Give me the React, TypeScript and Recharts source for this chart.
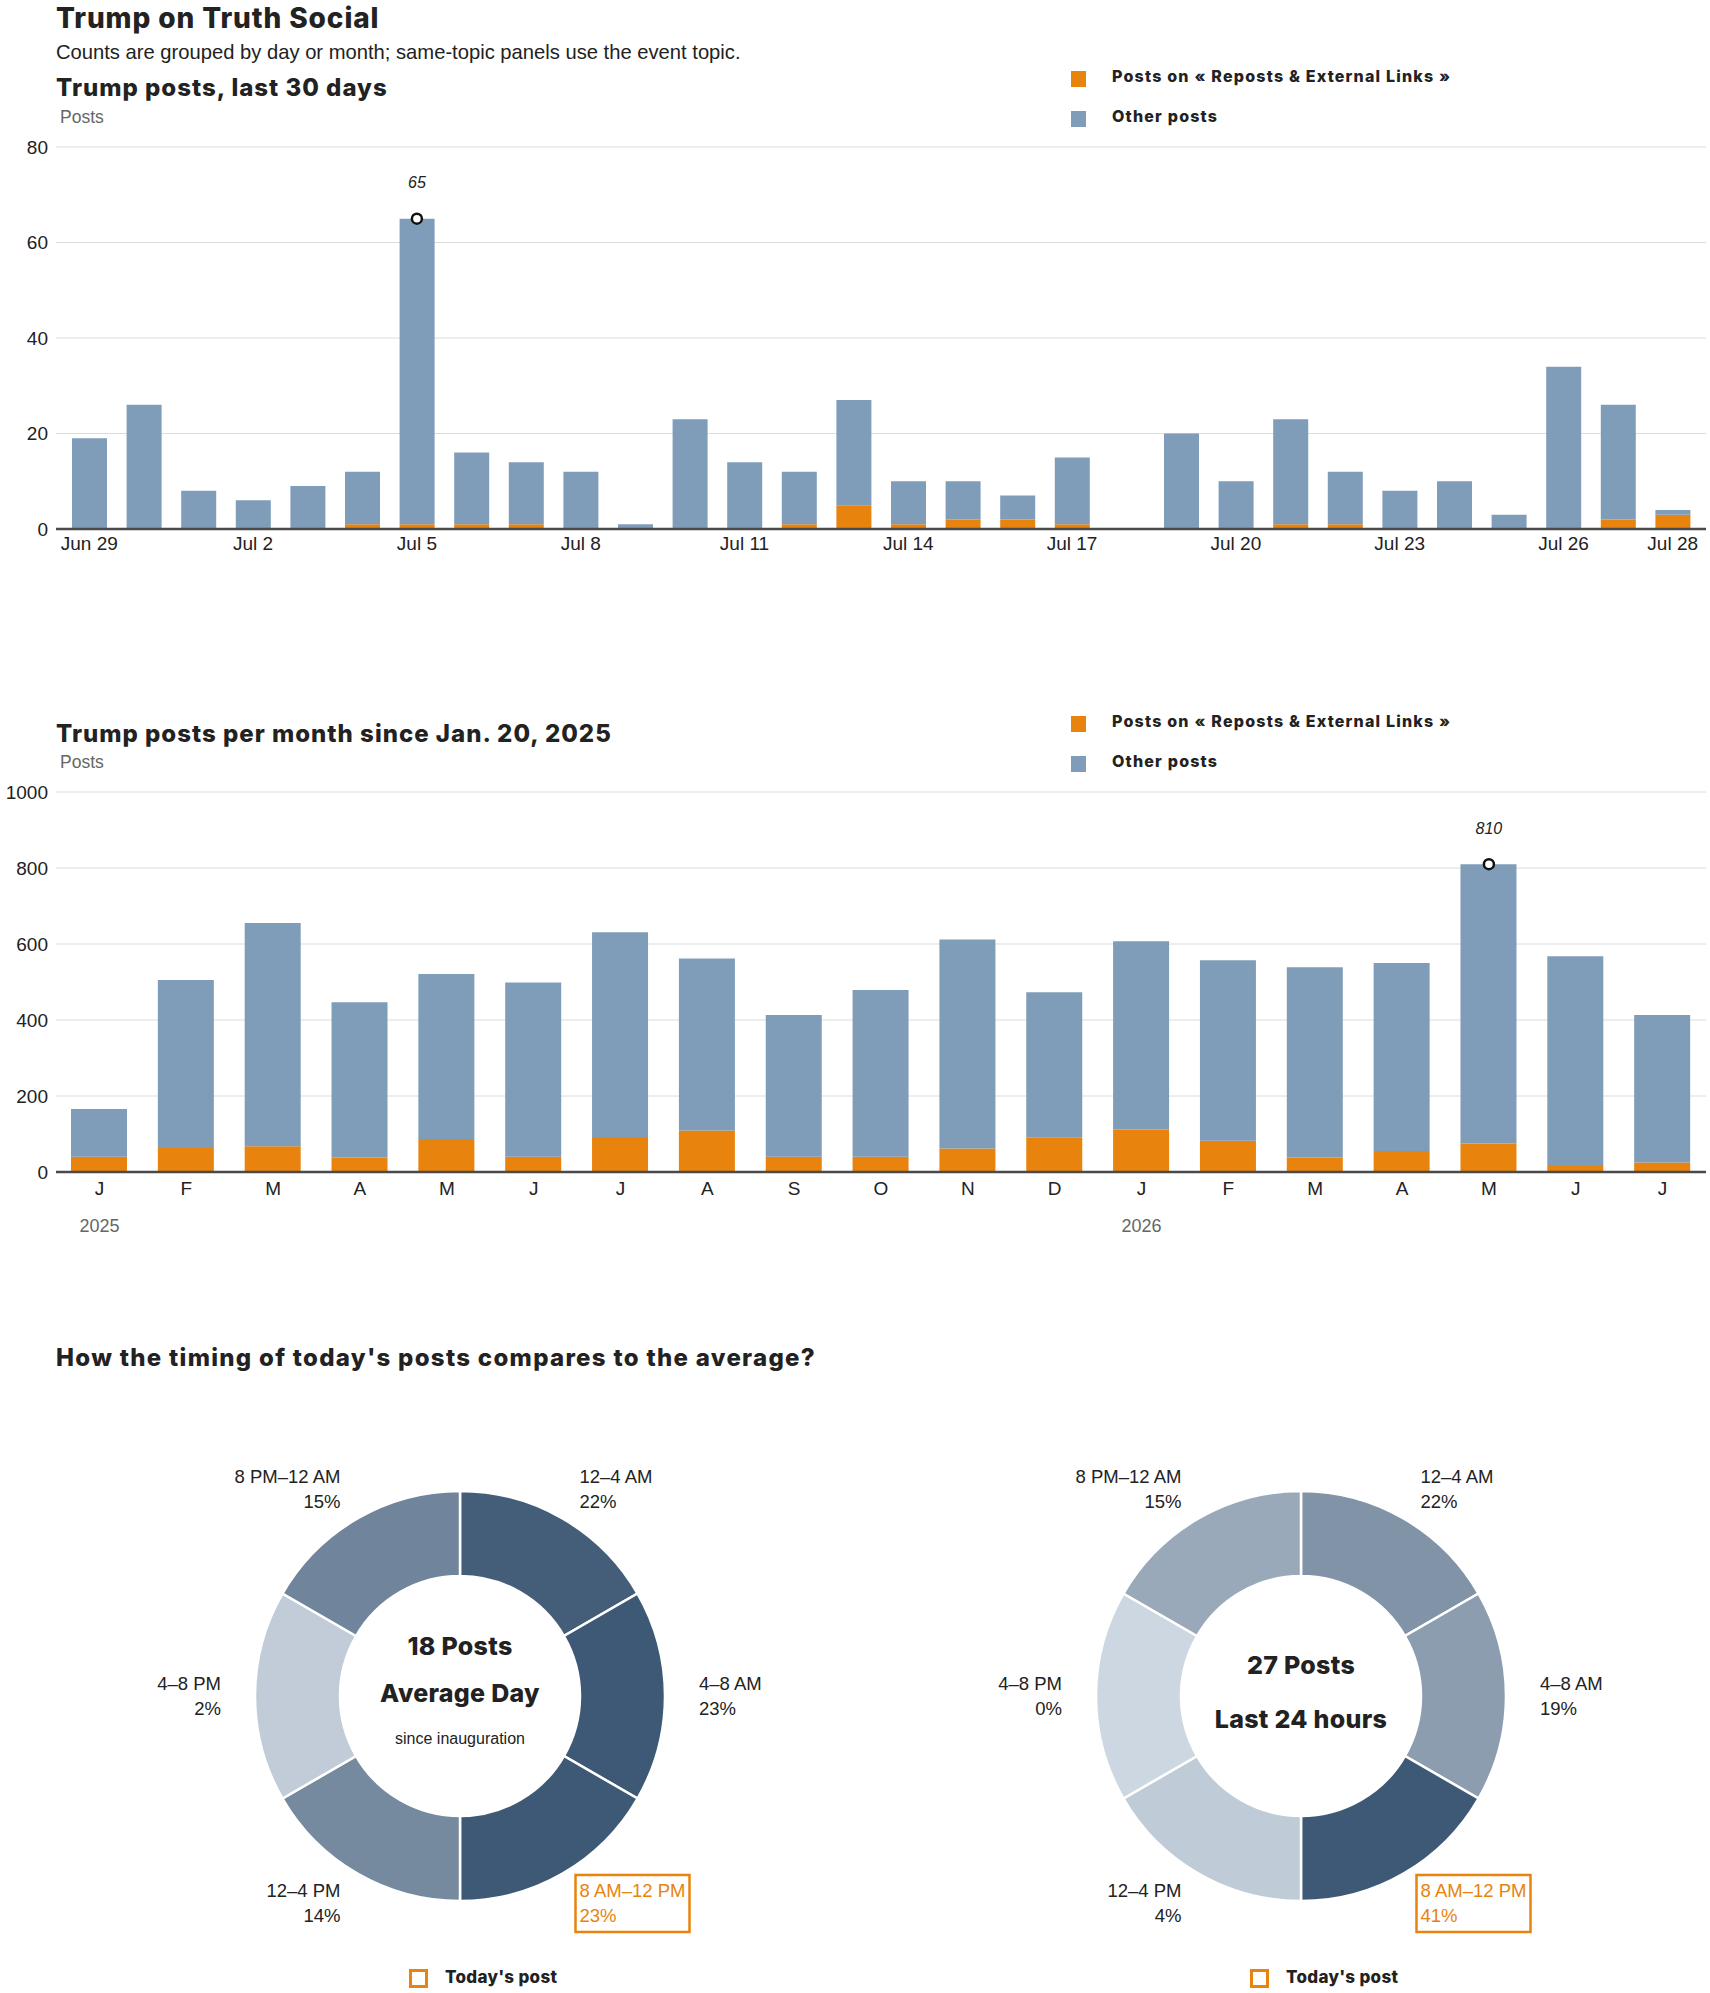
import React from 'react';
import { BarChart, Bar, XAxis, YAxis, CartesianGrid, ReferenceDot, PieChart, Pie, Cell } from 'recharts';

// ---------- Daily chart data ----------
const DAYS = ['Jun 29', 'Jun 30', 'Jul 1', 'Jul 2', 'Jul 3', 'Jul 4', 'Jul 5', 'Jul 6', 'Jul 7', 'Jul 8', 'Jul 9', 'Jul 10', 'Jul 11', 'Jul 12', 'Jul 13', 'Jul 14', 'Jul 15', 'Jul 16', 'Jul 17', 'Jul 18', 'Jul 19', 'Jul 20', 'Jul 21', 'Jul 22', 'Jul 23', 'Jul 24', 'Jul 25', 'Jul 26', 'Jul 27', 'Jul 28'];
const DAY_LINK_POSTS = [0, 0, 0, 0, 0, 1, 1, 1, 1, 0, 0, 0, 0, 1, 5, 1, 2, 2, 1, 0, 0, 0, 1, 1, 0, 0, 0, 0, 2, 3];
const DAY_OTHER_POSTS = [19, 26, 8, 6, 9, 11, 64, 15, 13, 12, 1, 23, 14, 11, 22, 9, 8, 5, 14, 0, 20, 10, 22, 11, 8, 10, 3, 34, 24, 1];
const DAY_TICK_LABELS = ['Jun 29', 'Jul 2', 'Jul 5', 'Jul 8', 'Jul 11', 'Jul 14', 'Jul 17', 'Jul 20', 'Jul 23', 'Jul 26', 'Jul 28'];
const DAY_Y_TICKS = [0, 20, 40, 60, 80];

// ---------- Monthly chart data ----------
const MONTHS = ['Jan 2025', 'Feb 2025', 'Mar 2025', 'Apr 2025', 'May 2025', 'Jun 2025', 'Jul 2025', 'Aug 2025', 'Sep 2025', 'Oct 2025', 'Nov 2025', 'Dec 2025', 'Jan 2026', 'Feb 2026', 'Mar 2026', 'Apr 2026', 'May 2026', 'Jun 2026', 'Jul 2026'];
const MONTH_TICK_LABELS = ['J', 'F', 'M', 'A', 'M', 'J', 'J', 'A', 'S', 'O', 'N', 'D', 'J', 'F', 'M', 'A', 'M', 'J', 'J'];
const MONTH_YEAR_LABELS = ['2025', '', '', '', '', '', '', '', '', '', '', '', '2026', '', '', '', '', '', ''];
const MONTH_LINK_POSTS = [40, 63, 68, 38, 87, 40, 92, 109, 40, 40, 62, 90, 112, 82, 38, 55, 75, 16, 25];
const MONTH_OTHER_POSTS = [126, 442, 587, 409, 434, 459, 539, 453, 373, 439, 550, 383, 495, 475, 501, 495, 735, 552, 388];
const MONTH_Y_TICKS = [0, 200, 400, 600, 800, 1000];

// ---------- Timing donuts ----------
const TIME_SLOTS = ['12–4 AM', '4–8 AM', '8 AM–12 PM', '12–4 PM', '4–8 PM', '8 PM–12 AM'];
const SLOT_HOURS = [4, 4, 4, 4, 4, 4];
const AVERAGE_SHARE = [22, 23, 23, 14, 2, 15];
const TODAY_SHARE = [22, 19, 41, 4, 0, 15];
const TODAY_SLOT = '8 AM–12 PM';

// ---------- Styles ----------
const ORANGE = '#e8830e';
const BLUE = '#7f9db9';
const TEXT = '#222';
const GRAY = '#666';
const FONT = '"Liberation Sans", Arial, sans-serif';
const HEAVY = 'Inter, "Liberation Sans", Arial, sans-serif';
const LIGHT_RGB = [205, 215, 225];
const DARK_RGB = [62, 89, 117];

const dayTable = DAYS.map((day, i) => ({ day, links: DAY_LINK_POSTS[i], other: DAY_OTHER_POSTS[i], total: DAY_LINK_POSTS[i] + DAY_OTHER_POSTS[i] }));
const monthTable = MONTHS.map((month, i) => ({ month, links: MONTH_LINK_POSTS[i], other: MONTH_OTHER_POSTS[i], total: MONTH_LINK_POSTS[i] + MONTH_OTHER_POSTS[i] }));

const maxRow = (rows: any[]) => rows.reduce((a, b) => (b.total > a.total ? b : a), rows[0]);
const dayMax = maxRow(dayTable);
const monthMax = maxRow(monthTable);

const shadeFor = (share: number, maxShare: number) => {
  const t = maxShare > 0 ? share / maxShare : 0;
  const c = LIGHT_RGB.map((l, k) => Math.round(l + (DARK_RGB[k] - l) * t));
  return `rgb(${c[0]},${c[1]},${c[2]})`;
};

const PeakMarker = (props: any) => {
  const { cx, cy, text } = props;
  if (cx == null || cy == null) return null;
  return (
    <g>
      <circle cx={cx} cy={cy} r={5} fill="#fff" stroke="#111" strokeWidth={2.5} />
      <text x={cx} y={cy - 36} textAnchor="middle" dominantBaseline="central" fontSize={16} fontStyle="italic" fill={TEXT} fontFamily={FONT}>
        {text}
      </text>
    </g>
  );
};

const MonthTick = (props: any) => {
  const { x, y, payload } = props;
  const i = MONTHS.indexOf(payload.value);
  return (
    <g>
      <text x={x} y={y + 16} textAnchor="middle" dominantBaseline="central" fontSize={19} fill={TEXT} fontFamily={FONT}>
        {MONTH_TICK_LABELS[i]}
      </text>
      {MONTH_YEAR_LABELS[i] ? (
        <text x={x} y={y + 54} textAnchor="middle" dominantBaseline="central" fontSize={18} fill={GRAY} fontFamily={FONT}>
          {MONTH_YEAR_LABELS[i]}
        </text>
      ) : null}
    </g>
  );
};

const abs = (left: number, top: number, extra: any = {}) => ({ position: 'absolute' as const, left, top, ...extra });

const heading = (size: number, spacing = 0) => ({
  fontFamily: HEAVY,
  fontSize: size,
  lineHeight: `${size}px`,
  fontWeight: 800,
  letterSpacing: spacing,
  whiteSpace: 'nowrap' as const,
  color: TEXT,
});

const Legend = ({ top }: { top: number }) => (
  <>
    <div style={abs(1071, top - 5, { width: 15, height: 16, background: ORANGE })} />
    <div style={abs(1112, top - 8, heading(16, 1.2))}>Posts on « Reposts &amp; External Links »</div>
    <div style={abs(1071, top + 35, { width: 15, height: 16, background: BLUE })} />
    <div style={abs(1112, top + 32, heading(16, 1.2))}>Other posts</div>
  </>
);

const makeSlotLabel = (shares: number[]) => (props: any) => {
  const { cx, cy, midAngle, outerRadius, index } = props;
  const RAD = Math.PI / 180;
  const r = outerRadius + 34;
  const x = cx + r * Math.cos(-midAngle * RAD);
  const y = cy + r * Math.sin(-midAngle * RAD);
  const right = x > cx;
  const slot = TIME_SLOTS[index];
  const hl = slot === TODAY_SLOT;
  const color = hl ? ORANGE : TEXT;
  const anchor = right ? 'start' : 'end';
  return (
    <g>
      {hl ? (
        <rect x={right ? x - 4 : x - 110} y={y - 28} width={114} height={57} fill="none" stroke={ORANGE} strokeWidth={2.5} />
      ) : null}
      <text x={x} y={y - 12.5} textAnchor={anchor} dominantBaseline="central" fontSize={18.5} fill={color} fontFamily={FONT}>
        {slot}
      </text>
      <text x={x} y={y + 12.5} textAnchor={anchor} dominantBaseline="central" fontSize={18.5} fill={color} fontFamily={FONT}>
        {shares[index]}%
      </text>
    </g>
  );
};

const Donut = ({ left, shares, lines }: { left: number; shares: number[]; lines: { text: string; y: number; size: number; bold: boolean }[] }) => {
  const maxShare = Math.max(...shares);
  const rows = TIME_SLOTS.map((slot, i) => ({ slot, hours: SLOT_HOURS[i], share: shares[i] }));
  return (
    <div style={abs(left, 1416, { width: 800, height: 560 })}>
      <PieChart width={800} height={560} margin={{ top: 0, right: 0, bottom: 0, left: 0 }}>
        <Pie
          data={rows}
          dataKey="hours"
          nameKey="slot"
          cx={400}
          cy={280}
          innerRadius={120}
          outerRadius={205}
          startAngle={90}
          endAngle={-270}
          stroke="#fff"
          strokeWidth={2.5}
          labelLine={false}
          label={makeSlotLabel(shares)}
          isAnimationActive={false}
        >
          {rows.map((r, i) => (
            <Cell key={i} fill={shadeFor(r.share, maxShare)} />
          ))}
        </Pie>
      </PieChart>
      {lines.map((l, i) => (
        <div
          key={i}
          style={abs(200, l.y - 1416 - l.size / 2, {
            width: 400,
            textAlign: 'center',
            ...(l.bold ? heading(l.size, 0.3) : { fontSize: l.size, lineHeight: `${l.size}px`, color: TEXT }),
          })}
        >
          {l.text}
        </div>
      ))}
    </div>
  );
};

export default function App() {
  return (
    <div style={{ position: 'absolute', left: 0, top: 0, width: 1710, height: 1993, overflow: 'hidden', background: '#fff', fontFamily: FONT, color: TEXT }}>
      <div style={abs(56, 4, heading(28, 0.9))}>Trump on Truth Social</div>
      <div style={abs(56, 42, { fontSize: 20.2, lineHeight: '20px', whiteSpace: 'nowrap' })}>
        Counts are grouped by day or month; same-topic panels use the event topic.
      </div>

      {/* Daily chart */}
      <div style={abs(56, 76, heading(24, 1))}>Trump posts, last 30 days</div>
      <div style={abs(60, 108.5, { fontSize: 17.5, lineHeight: '17px', color: GRAY })}>Posts</div>
      <Legend top={76} />
      <div style={abs(0, 108, { width: 1710, height: 470 })}>
        <BarChart width={1710} height={470} data={dayTable} margin={{ top: 39, right: 4, bottom: 19, left: 0 }}>
          <CartesianGrid vertical={false} stroke="#dcdcdc" />
          <XAxis
            dataKey="day"
            interval={0}
            tickLine={false}
            tickSize={0}
            tickMargin={8}
            height={30}
            padding={{ left: 6, right: 6 }}
            axisLine={{ stroke: '#4a4a4a', strokeWidth: 2.5 }}
            tick={{ fontSize: 19, fill: TEXT, fontFamily: FONT }}
            tickFormatter={(v: string) => (DAY_TICK_LABELS.includes(v) ? v : '')}
          />
          <YAxis
            width={56}
            domain={[0, 80]}
            ticks={DAY_Y_TICKS}
            axisLine={false}
            tickLine={false}
            tickSize={0}
            tickMargin={8}
            tick={{ fontSize: 19, fill: TEXT, fontFamily: FONT }}
          />
          <Bar dataKey="links" stackId="s" fill={ORANGE} barSize={35} isAnimationActive={false} />
          <Bar dataKey="other" stackId="s" fill={BLUE} barSize={35} isAnimationActive={false} />
          <ReferenceDot x={dayMax.day} y={dayMax.total} r={5} shape={(p: any) => <PeakMarker {...p} text={String(dayMax.total)} />} />
        </BarChart>
      </div>

      {/* Monthly chart */}
      <div style={abs(56, 722, heading(24, 1))}>Trump posts per month since Jan. 20, 2025</div>
      <div style={abs(60, 753.5, { fontSize: 17.5, lineHeight: '17px', color: GRAY })}>Posts</div>
      <Legend top={721} />
      <div style={abs(0, 748, { width: 1710, height: 520 })}>
        <BarChart width={1710} height={520} data={monthTable} margin={{ top: 44, right: 4, bottom: 26, left: 0 }}>
          <CartesianGrid vertical={false} stroke="#dcdcdc" />
          <XAxis
            dataKey="month"
            interval={0}
            tickLine={false}
            tickSize={0}
            tickMargin={0}
            height={70}
            axisLine={{ stroke: '#4a4a4a', strokeWidth: 2.5 }}
            tick={<MonthTick />}
          />
          <YAxis
            width={56}
            domain={[0, 1000]}
            ticks={MONTH_Y_TICKS}
            axisLine={false}
            tickLine={false}
            tickSize={0}
            tickMargin={8}
            tick={{ fontSize: 19, fill: TEXT, fontFamily: FONT }}
          />
          <Bar dataKey="links" stackId="s" fill={ORANGE} barSize={56} isAnimationActive={false} />
          <Bar dataKey="other" stackId="s" fill={BLUE} barSize={56} isAnimationActive={false} />
          <ReferenceDot x={monthMax.month} y={monthMax.total} r={5} shape={(p: any) => <PeakMarker {...p} text={String(monthMax.total)} />} />
        </BarChart>
      </div>

      {/* Timing donuts */}
      <div style={abs(56, 1346, heading(24, 1.3))}>How the timing of today's posts compares to the average?</div>
      <Donut
        left={60}
        shares={AVERAGE_SHARE}
        lines={[
          { text: '18 Posts', y: 1646, size: 25, bold: true },
          { text: 'Average Day', y: 1693, size: 25, bold: true },
          { text: 'since inauguration', y: 1739, size: 16, bold: false },
        ]}
      />
      <Donut
        left={901}
        shares={TODAY_SHARE}
        lines={[
          { text: '27 Posts', y: 1665, size: 25, bold: true },
          { text: 'Last 24 hours', y: 1719, size: 25, bold: true },
        ]}
      />
      <div style={abs(409, 1969, { width: 19, height: 19, boxSizing: 'border-box', border: `3.5px solid ${ORANGE}` })} />
      <div style={abs(445, 1969, heading(17, 0.3))}>Today's post</div>
      <div style={abs(1250, 1969, { width: 19, height: 19, boxSizing: 'border-box', border: `3.5px solid ${ORANGE}` })} />
      <div style={abs(1286, 1969, heading(17, 0.3))}>Today's post</div>
    </div>
  );
}
